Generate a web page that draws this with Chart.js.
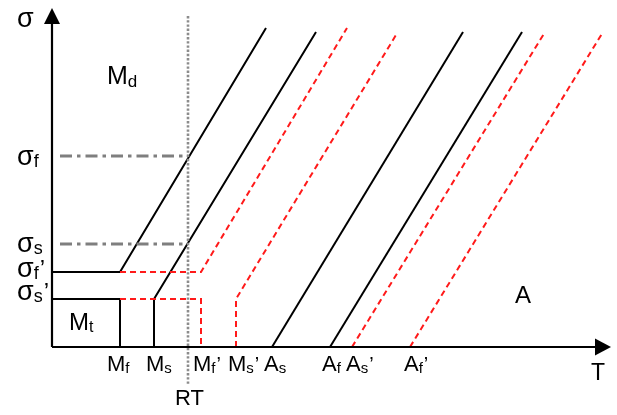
<!DOCTYPE html>
<html>
<head>
<meta charset="utf-8">
<script src="https://cdn.jsdelivr.net/npm/chart.js@4.4.1/dist/chart.umd.min.js"></script>
<style>
    html, body { margin: 0; padding: 0; background: #fff; }
    #wrap { width: 617px; height: 415px; }
</style>
</head>
<body>
<div id="wrap"><canvas id="phaseChart"></canvas></div>
<script>
// Transformation temperatures (T axis, arbitrary units)
const tempNames = ['M|f', 'M|s', "M|f|'", "M|s|'", 'A|s', 'A|f', "A|s|'", "A|f|'"];
const tempValues = [6.8, 10.2, 14.9, 18.4, 22.0, 27.8, 30.0, 35.8];
const rtValue = 13.6;

// Stress levels (sigma axis)
const stressNames = ['σ|f', 'σ|s', "σ|f|'", "σ|s|'"];
const stressValues = [19.1, 10.3, 7.5, 4.8];

const axisEnd = { T: 55.9, sigma: 33.9 };

// black (solid) transformation lines
const mfLine = [[0, 7.5], [6.8, 7.5], [21.4, 31.9]];
const msLine = [[10.2, 0], [10.2, 4.8], [26.4, 31.5]];
const mtBox = [[0, 4.8], [6.8, 4.8], [6.8, 0]];
const asLine = [[22.0, 0], [41.1, 31.5]];
const afLine = [[27.8, 0], [47.0, 31.5]];

// red (dashed) shifted lines
const mfPrimeUpper = [[6.8, 7.5], [14.9, 7.5], [29.5, 31.9]];
const mfPrimeLower = [[6.8, 4.8], [14.9, 4.8], [14.9, 0]];
const msPrimeLine = [[18.4, 0], [18.4, 4.8], [34.4, 31.2]];
const asPrimeLine = [[30.0, 0], [49.3, 31.5]];
const afPrimeLine = [[35.8, 0], [55.1, 31.5]];

function pts(arr) {
    return arr.map(p => ({ x: p[0], y: p[1] }));
}

function lineSet(arr, color, width, dash) {
    return {
        data: pts(arr),
        showLine: true,
        borderColor: color,
        borderWidth: width,
        borderDash: dash || [],
        pointRadius: 0,
        fill: false,
        tension: 0
    };
}

// Text annotations: [label, x, y, size]
const textMarks = [
    ['σ', -3.5, 32.0, 27],
    ['M|d', 5.5, 26.3, 25],
    ['M|t', 1.7, 1.7, 24],
    ['A', 46.3, 4.4, 24],
    ['T', 53.9, -3.3, 23],
    ['RT', 12.3, -5.8, 22]
];
const tempLabelX = [5.5, 9.4, 14.1, 17.6, 21.2, 27.0, 29.4, 35.2];
const stressLabelX = -3.5;

function drawLabel(ctx, label, px, py, size) {
    const parts = label.split('|');
    const family = '"Liberation Sans", Arial, sans-serif';
    ctx.fillStyle = '#000';
    ctx.textBaseline = 'alphabetic';
    ctx.textAlign = 'left';
    ctx.font = size + 'px ' + family;
    ctx.fillText(parts[0], px, py);
    let x = px + ctx.measureText(parts[0]).width;
    if (parts[1]) {
        const sub = Math.round(size * 0.68);
        ctx.font = sub + 'px ' + family;
        ctx.fillText(parts[1], x, py + size * 0.1);
        x += ctx.measureText(parts[1]).width + 1;
    }
    if (parts[2]) {
        ctx.font = Math.round(size * 0.9) + 'px ' + family;
        ctx.fillText('’', x, py);
    }
}

const annotationPlugin = {
    id: 'phaseAnnotations',
    afterDatasetsDraw(chart) {
        const ctx = chart.ctx;
        const xs = chart.scales.x;
        const ys = chart.scales.y;
        ctx.save();

        // arrow heads
        const ox = xs.getPixelForValue(0);
        const oy = ys.getPixelForValue(0);
        const tipY = ys.getPixelForValue(axisEnd.sigma);
        const tipX = xs.getPixelForValue(axisEnd.T);
        ctx.fillStyle = '#000';
        ctx.beginPath();
        ctx.moveTo(ox, tipY);
        ctx.lineTo(ox - 8, tipY + 16);
        ctx.lineTo(ox + 8, tipY + 16);
        ctx.closePath();
        ctx.fill();
        ctx.beginPath();
        ctx.moveTo(tipX, oy);
        ctx.lineTo(tipX - 16, oy - 8.5);
        ctx.lineTo(tipX - 16, oy + 8.5);
        ctx.closePath();
        ctx.fill();

        // tick labels
        tempNames.forEach((name, i) => {
            drawLabel(ctx, name, xs.getPixelForValue(tempLabelX[i]), ys.getPixelForValue(-2.35), 22);
        });
        stressNames.forEach((name, i) => {
            const yOff = [-0.85, -0.75, -0.45, -0.05][i];
            drawLabel(ctx, name, xs.getPixelForValue(stressLabelX), ys.getPixelForValue(stressValues[i] + yOff), 27);
        });
        textMarks.forEach(m => {
            drawLabel(ctx, m[0], xs.getPixelForValue(m[1]), ys.getPixelForValue(m[2]), m[3]);
        });
        ctx.restore();
    }
};

const black = '#000000';
const red = '#ff1a1a';
const grey = '#7f7f7f';
const dotGrey = '#8c8c8c';

const datasets = [
    lineSet([[0, 0], [axisEnd.T - 1, 0]], black, 2.2),
    lineSet([[0, 0], [0, axisEnd.sigma - 1]], black, 2.2),
    lineSet([[rtValue, axisEnd.sigma - 0.8], [rtValue, -3.8]], dotGrey, 2.6, [2.4, 1.8]),
    lineSet([[0.8, stressValues[0]], [rtValue, stressValues[0]]], grey, 2.8, [12, 5, 3.5, 5]),
    lineSet([[0.8, stressValues[1]], [rtValue, stressValues[1]]], grey, 2.8, [12, 5, 3.5, 5]),
    lineSet(mfPrimeUpper, red, 2, [6, 4]),
    lineSet(mfPrimeLower, red, 2, [6, 4]),
    lineSet(msPrimeLine, red, 2, [6, 4]),
    lineSet(asPrimeLine, red, 2, [6, 4]),
    lineSet(afPrimeLine, red, 2, [6, 4]),
    lineSet(mfLine, black, 2),
    lineSet(msLine, black, 2),
    lineSet(mtBox, black, 2),
    lineSet(asLine, black, 2),
    lineSet(afLine, black, 2)
];

const ctx = document.getElementById('phaseChart').getContext('2d');
new Chart(ctx, {
    type: 'scatter',
    data: { datasets: datasets },
    options: {
        responsive: true,
        maintainAspectRatio: false,
        animation: false,
        layout: { padding: 0 },
        plugins: {
            legend: { display: false },
            tooltip: { enabled: false }
        },
        scales: {
            x: { type: 'linear', min: -5.2, max: 56.5, display: false },
            y: { type: 'linear', min: -6.8, max: 34.7, display: false }
        }
    },
    plugins: [annotationPlugin]
});
</script>
</body>
</html>
